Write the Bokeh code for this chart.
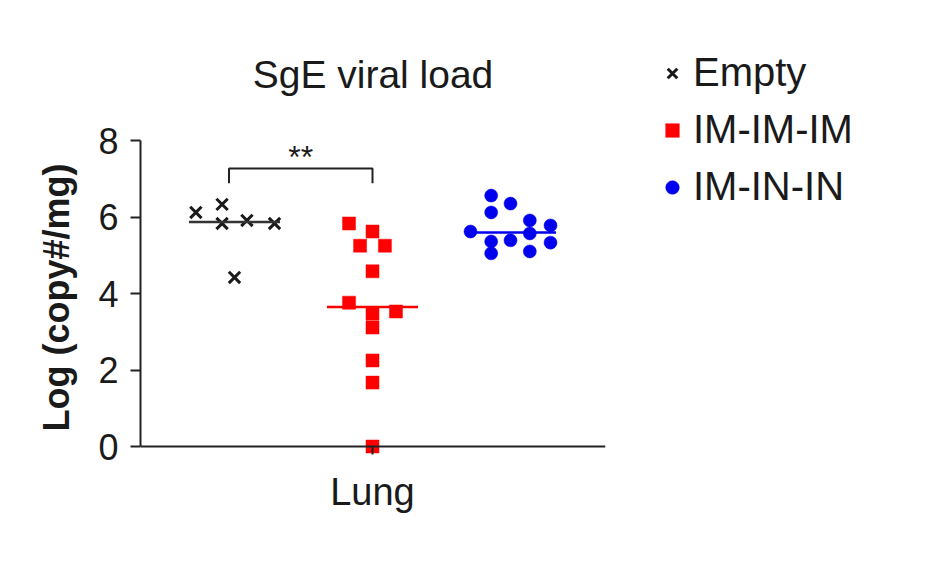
import numpy as np
from bokeh.plotting import figure
from bokeh.models import (Range1d, FixedTicker, Label, Legend, LegendItem,
                          ColumnDataSource, LinearAxis)
from bokeh.embed import file_html
from bokeh.resources import INLINE

# ---------------- data ----------------
groups = ["Empty", "IM-IM-IM", "IM-IN-IN"]
tissue_label = "Lung"

empty_vals = [6.12, 6.33, 5.83, 5.91, 5.83, 4.42]
empty_jit = [-0.28, -0.09, -0.09, 0.09, 0.29, 0.0]

imimim_vals = [5.83, 5.62, 5.25, 5.25, 4.58, 3.76, 3.47, 3.53, 3.11, 2.25, 1.67, 0.0]
imimim_jit = [-0.17, 0.0, -0.09, 0.09, 0.0, -0.17, 0.0, 0.17, 0.0, 0.0, 0.0, 0.0]

iminin_vals = [6.56, 6.12, 6.35, 5.62, 5.91, 5.57, 5.78, 5.36, 5.39, 5.05, 5.10, 5.33]
iminin_jit = [-0.14, -0.14, 0.0, -0.29, 0.14, 0.14, 0.29, -0.14, 0.0, -0.14, 0.14, 0.29]

y_ticks = [0, 2, 4, 6, 8]
sig_text = "**"
sig_pair = (0, 1)          # Empty vs IM-IM-IM
sig_level = 7.27
sig_leg = 6.88

title_text = "SgE viral load"
y_label = "Log (copy#/mg)"

# ---------------- layout ----------------
FONT = "Liberation Sans"
px_per_x = 138.0
px_per_y = 38.25
FW, FH = 465, 314
x_start = 1 - 94 / px_per_x
x_end = x_start + FW / px_per_x
y_end = 8
y_start = y_end - FH / px_per_y

p = figure(frame_width=FW, frame_height=FH, output_backend="svg",
           toolbar_location=None,
           x_range=Range1d(x_start, x_end), y_range=Range1d(y_start, y_end),
           min_border_left=140, min_border_right=305, min_border_top=140,
           min_border_bottom=70, x_axis_type=None, y_axis_type=None,
           title=title_text)
p.outline_line_color = None
p.background_fill_color = "white"
p.border_fill_color = "white"
p.title.align = "center"
p.title.vertical_align = "top"
p.title.text_font = FONT
p.title.text_font_size = "39px"
p.title.text_font_style = "normal"
p.title.text_color = "#1a1a1a"
p.title.standoff = 86

axis_col = "#222222"
yaxis = LinearAxis(ticker=FixedTicker(ticks=y_ticks), bounds=(0, 8),
                   axis_label=y_label)
# axis line + tick drawn at y = 0
xaxis = LinearAxis(ticker=FixedTicker(ticks=[2]), fixed_location=0,
                   major_label_overrides={2: ""}, major_label_standoff=0)
# category label row
xlab = LinearAxis(ticker=FixedTicker(ticks=[2]),
                  major_label_overrides={2: tissue_label},
                  axis_line_color=None, major_tick_line_color=None,
                  major_tick_in=0, major_tick_out=0, minor_tick_line_color=None,
                  major_label_standoff=16, major_label_text_font=FONT,
                  major_label_text_font_size="38px",
                  major_label_text_color="#1a1a1a")
for ax in (yaxis, xaxis):
    ax.axis_line_color = axis_col
    ax.axis_line_width = 2
    ax.major_tick_line_color = axis_col
    ax.major_tick_line_width = 2
    ax.major_tick_in = 0
    ax.major_tick_out = 10
    ax.minor_tick_line_color = None
    ax.major_label_text_font = FONT
    ax.major_label_text_color = "#1a1a1a"
yaxis.major_label_text_font_size = "36px"
yaxis.major_label_standoff = 12
yaxis.axis_label_text_font = FONT
yaxis.axis_label_text_font_size = "36px"
yaxis.axis_label_text_font_style = "bold"
yaxis.axis_label_text_color = "#1a1a1a"
yaxis.axis_label_standoff = 18
p.add_layout(yaxis, "left")
p.add_layout(xaxis, "below")
p.add_layout(xlab, "below")

colors = ["#1a1a1a", "#ff0000", "#0000ee"]
median_colors = ["#333333", "#ff0000", "#0000ee"]
markers = ["x", "square", "circle"]
vals = [empty_vals, imimim_vals, iminin_vals]
jits = [empty_jit, imimim_jit, iminin_jit]

renderers = []
for i, (g, v, j, c, m) in enumerate(zip(groups, vals, jits, colors, markers)):
    pos = i + 1
    src = ColumnDataSource(dict(x=[pos + d for d in j], y=v))
    if m == "x":
        r = p.scatter("x", "y", source=src, marker=m, size=16, line_color=c,
                      line_width=3)
    else:
        r = p.scatter("x", "y", source=src, marker=m, size=13, fill_color=c,
                      line_color=c, line_width=0.5)
    renderers.append(r)
    med = float(np.median(v))
    p.segment(x0=[pos - 0.33], y0=[med], x1=[pos + 0.33], y1=[med],
              line_color=median_colors[i], line_width=2.5)

# significance bracket
xa = sig_pair[0] + 1 - 0.04
xb = sig_pair[1] + 1
p.line(x=[xa, xa, xb, xb], y=[sig_leg, sig_level, sig_level, sig_leg],
       line_color=axis_col, line_width=2)
p.add_layout(Label(x=(xa + xb) / 2, y=sig_level + 0.3, text=sig_text,
                   text_align="center", text_baseline="alphabetic",
                   text_font=FONT, text_font_size="32px", text_color="#1a1a1a"))

legend = Legend(items=[LegendItem(label=g, renderers=[r]) for g, r in zip(groups, renderers)],
                location=(50, 245), orientation="vertical")
legend.label_text_font = FONT
legend.label_text_font_size = "40px"
legend.label_text_color = "#1a1a1a"
legend.glyph_width = 34
legend.glyph_height = 40
legend.label_height = 40
legend.label_standoff = 4
legend.spacing = 12
legend.padding = 0
legend.margin = 0
legend.border_line_color = None
legend.background_fill_alpha = 0
p.add_layout(legend, "right")

open("out.html", "w").write(file_html(p, INLINE))
